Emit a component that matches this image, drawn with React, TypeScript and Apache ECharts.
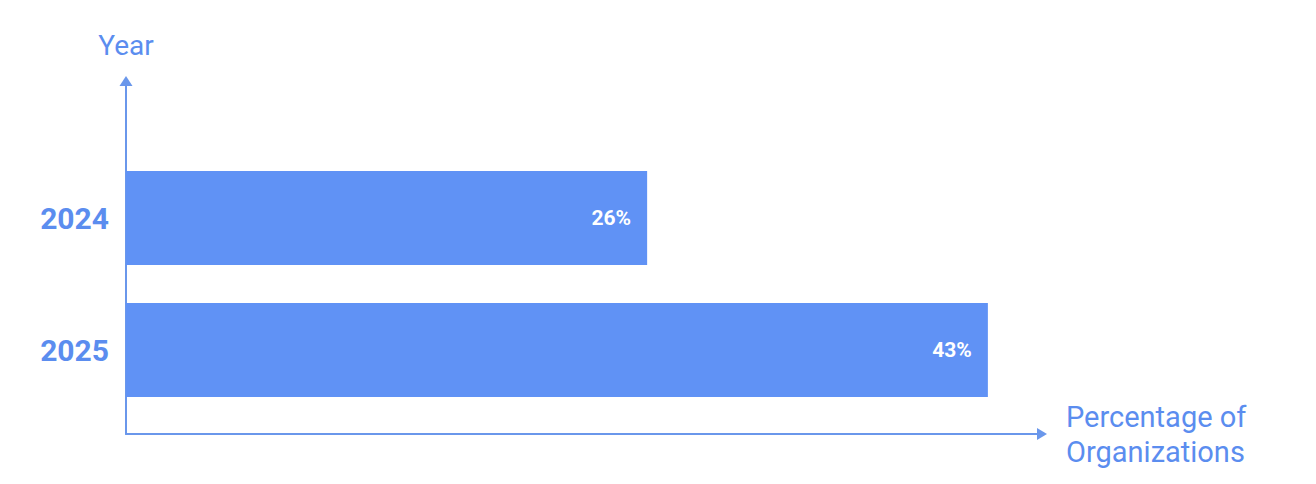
import { useRef, useEffect } from 'react'
import * as echarts from 'echarts'

const years = ['2024', '2025']
const shares = [26, 43]

const BAR_COLOR = '#6092f5'
const TEXT_COLOR = '#5b8def'
const AXIS_COLOR = '#6a97eb'

export default function App() {
  const chartRef = useRef<HTMLDivElement>(null)

  useEffect(() => {
    document.body.style.margin = '0'
    if (!chartRef.current) return
    const chart = echarts.init(chartRef.current, undefined, { renderer: 'svg' })

    const option: echarts.EChartsOption = {
      animation: false,
      textStyle: { fontFamily: 'Roboto' },
      grid: [
        // axes frame
        { left: 126, right: 274, top: 81, bottom: 50 },
        // bars
        { left: 126, right: 274, top: 152, bottom: 68 },
      ],
      xAxis: [
        {
          gridIndex: 0,
          type: 'value',
          min: 0,
          max: 45.7,
          name: 'Percentage of\nOrganizations',
          nameLocation: 'end',
          nameGap: 24,
          nameTextStyle: { color: TEXT_COLOR, fontSize: 29, lineHeight: 35, align: 'left', verticalAlign: 'middle' },
          axisLine: { show: true, symbol: ['none', 'triangle'], symbolSize: [12, 10], lineStyle: { color: AXIS_COLOR, width: 2 } },
          axisTick: { show: false },
          axisLabel: { show: false },
          splitLine: { show: false },
        },
        {
          gridIndex: 1,
          type: 'value',
          min: 0,
          max: 45.7,
          axisLine: { show: false },
          axisTick: { show: false },
          axisLabel: { show: false },
          splitLine: { show: false },
        },
      ],
      yAxis: [
        {
          gridIndex: 0,
          type: 'value',
          min: 0,
          max: 1,
          name: 'Year',
          nameLocation: 'end',
          nameGap: 22,
          nameTextStyle: { color: TEXT_COLOR, fontSize: 28, align: 'center' },
          axisLine: { show: true, symbol: ['none', 'triangle'], symbolSize: [13, 10], lineStyle: { color: AXIS_COLOR, width: 2 } },
          axisTick: { show: false },
          axisLabel: { show: false },
          splitLine: { show: false },
        },
        {
          gridIndex: 1,
          type: 'category',
          data: years,
          inverse: true,
          axisLine: { show: false },
          axisTick: { show: false },
          axisLabel: { color: TEXT_COLOR, fontSize: 30, fontWeight: 'bold', margin: 17 },
        },
      ],
      series: [
        {
          type: 'bar',
          xAxisIndex: 1,
          yAxisIndex: 1,
          data: shares,
          barWidth: 94,
          itemStyle: { color: BAR_COLOR },
          label: {
            show: true,
            position: 'insideRight',
            distance: 16,
            formatter: '{c}%',
            color: '#ffffff',
            fontSize: 21,
            fontWeight: 'bold',
          },
        },
      ],
    }

    chart.setOption(option)
    return () => {
      chart.dispose()
    }
  }, [])

  return <div ref={chartRef} style={{ width: 1316, height: 484 }} />
}
